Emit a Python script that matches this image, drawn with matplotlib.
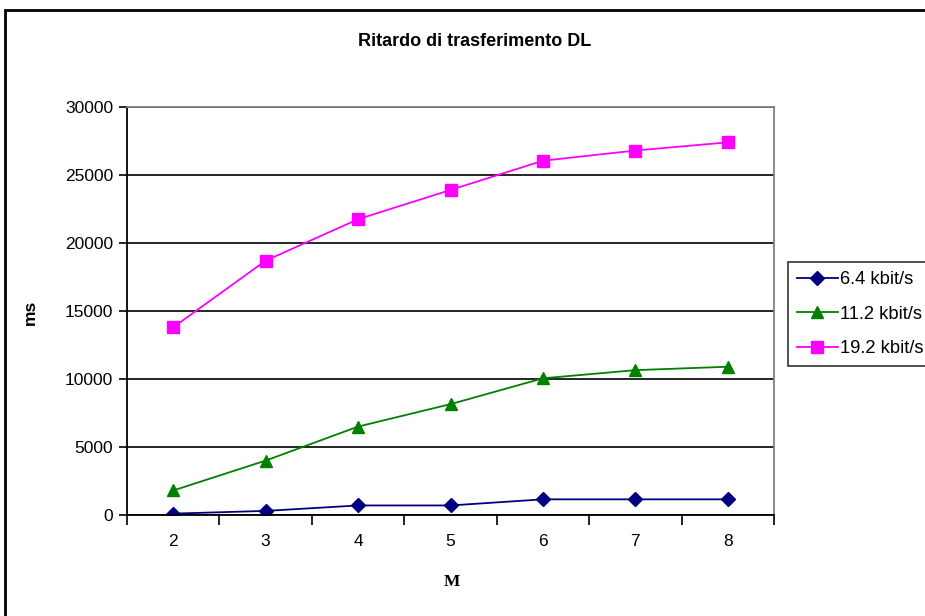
import matplotlib.pyplot as plt
from matplotlib.patches import Rectangle
import numpy as np

plt.rcParams['font.family'] = ['Liberation Sans', 'DejaVu Sans']

# data
M = [2, 3, 4, 5, 6, 7, 8]
r64 = [100, 300, 700, 700, 1150, 1150, 1150]
r112 = [1800, 4000, 6500, 8150, 10050, 10650, 10900]
r192 = [13800, 18700, 21750, 23900, 26050, 26800, 27400]

fig = plt.figure(figsize=(9.25, 6.16), dpi=100)
ax = fig.add_axes([0.1373, 0.164, 0.6995, 0.6623])

# outer chart border (clipped on right and bottom like the original)
fig.patches.append(Rectangle((5/925, -0.1), 1.2, 1 - 10/616 + 0.1,
                             transform=fig.transFigure, fill=False,
                             edgecolor='black', linewidth=2.0))

x = np.arange(len(M))
ax.plot(x, r64, color='#000080', marker='D', markersize=7, linewidth=1.3, label='6.4 kbit/s')
ax.plot(x, r112, color='#008000', marker='^', markersize=8.5, linewidth=1.3, label='11.2 kbit/s')
ax.plot(x, r192, color='#FF00FF', marker='s', markersize=8, linewidth=1.3, label='19.2 kbit/s')

ax.set_xlim(-0.5, len(M) - 0.5)
ax.set_ylim(0, 30000)
ax.set_yticks(np.arange(0, 30001, 5000))
ax.yaxis.grid(True, color='black', linewidth=1.2)
ax.set_axisbelow(True)

# category axis: ticks between categories, labels centered
ax.set_xticks(np.arange(-0.5, len(M), 1.0))
ax.set_xticklabels([])
ax.set_xticks(x, minor=True)
ax.set_xticklabels([str(m) for m in M], minor=True)
ax.tick_params(axis='x', which='minor', length=0, pad=14, labelsize=12.5)
ax.tick_params(axis='x', which='major', length=7, width=1.2, direction='out')
ax.tick_params(axis='y', length=6, width=1.2, direction='out', labelsize=12.5, pad=4)

for s in ['left', 'bottom']:
    ax.spines[s].set_color('black')
    ax.spines[s].set_linewidth(1.3)
for s in ['top', 'right']:
    ax.spines[s].set_color('#808080')
    ax.spines[s].set_linewidth(1.3)

fig.text(475/925, 1 - 42/616, 'Ritardo di trasferimento DL', ha='center', va='center',
         fontsize=13, fontweight='bold')
fig.text(30/925, 1 - 312/616, 'ms', ha='center', va='center', rotation=90,
         fontsize=12.5, fontweight='bold')
fig.text(452/925, 1 - 582/616, 'M', ha='center', va='center',
         fontsize=12.5, fontweight='bold', family=['Liberation Serif', 'DejaVu Serif'])

leg = fig.legend(loc='upper left', bbox_to_anchor=(788/925, 1 - 262/616),
                 frameon=True, fancybox=False, edgecolor='black', fontsize=13.2,
                 handlelength=2.2, handletextpad=0.15, borderpad=0.5, labelspacing=0.95,
                 borderaxespad=0)
leg.get_frame().set_linewidth(1.2)

fig.savefig('out.png', dpi=100)
